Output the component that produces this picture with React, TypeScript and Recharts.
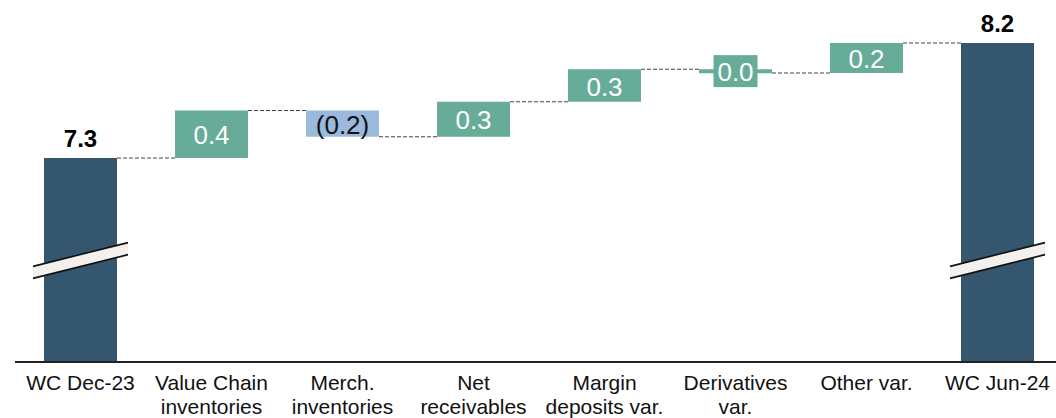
import React from "react";
import { BarChart, Bar, XAxis, YAxis, LabelList } from "recharts";

const categories = [
  "WC Dec-23",
  "Value Chain\ninventories",
  "Merch.\ninventories",
  "Net\nreceivables",
  "Margin\ndeposits var.",
  "Derivatives\nvar.",
  "Other var.",
  "WC Jun-24",
];
const startTotal = 7.3;
const deltas = [0.38, -0.21, 0.28, 0.26, -0.03, 0.24];
const endTotal = 8.22;
const valueLabels = ["7.3", "0.4", "(0.2)", "0.3", "0.3", "0.0", "0.2", "8.2"];

const W = 1064;
const H = 418;
const X_AXIS_H = 56;
const M = { top: 10, right: 1, bottom: 0, left: 15 };
const Y_MIN = 5.668;
const Y_MAX = 8.484;
const BREAK_AT = 6.48;
const BAR = 73;

const NAVY = "#34566e";
const GREEN = "#67ac98";
const BLUE = "#9ab9dd";

// build waterfall rows
const rows: any[] = [];
let run = startTotal;
rows.push({ name: categories[0], range: [0, startTotal], end: startTotal, kind: "total", label: valueLabels[0] });
deltas.forEach((d, i) => {
  const next = run + d;
  rows.push({
    name: categories[i + 1],
    range: [Math.min(run, next), Math.max(run, next)],
    end: next,
    kind: d < 0 ? "down" : "up",
    label: valueLabels[i + 1],
  });
  run = next;
});
rows.push({ name: categories[7], range: [0, endTotal], end: endTotal, kind: "total", label: valueLabels[7] });

const plotH = H - M.top - M.bottom - X_AXIS_H;
const plotW = W - M.left - M.right;
const band = plotW / categories.length;
const yPx = (v: number) => M.top + plotH * (1 - (v - Y_MIN) / (Y_MAX - Y_MIN));

function colorFor(r: any) {
  if (r.kind === "total") return NAVY;
  return r.label.startsWith("(") ? BLUE : GREEN;
}

function WaterfallShape(props: any) {
  const { x, y, width, height, index } = props;
  const r = rows[index];
  const endY = r.kind === "down" ? y + height : y;
  const h = Math.max(height, 4);
  const els: any[] = [];
  els.push(<rect key="r" x={x} y={r.kind === "down" || height >= 4 ? y : y - 2} width={width} height={h} fill={colorFor(r)} />);
  if (index < rows.length - 1) {
    const gap = band - width;
    els.push(
      <line key="c" x1={x + width} x2={x + width + gap} y1={endY} y2={endY} stroke="#444" strokeWidth={1} strokeDasharray="4 2" />
    );
  }
  if (r.kind === "total") {
    const cx = x + width / 2;
    const cy = yPx(BREAK_AT);
    const hw = width / 2 + 11;
    const s = 0.25 * hw;
    const t = 6;
    els.push(
      <g key="b">
        <polygon
          points={`${cx - hw},${cy - t + s} ${cx + hw},${cy - t - s} ${cx + hw},${cy + t - s} ${cx - hw},${cy + t + s}`}
          fill="#f3f0ed"
        />
        <line x1={cx - hw} y1={cy - t + s} x2={cx + hw} y2={cy - t - s} stroke="#111" strokeWidth={1.6} />
        <line x1={cx - hw} y1={cy + t + s} x2={cx + hw} y2={cy + t - s} stroke="#111" strokeWidth={1.6} />
      </g>
    );
  }
  return <g>{els}</g>;
}

function ValueLabel(props: any) {
  const { x, y, width, height, index } = props;
  const r = rows[index];
  const cx = x + width / 2;
  if (r.kind === "total") {
    return (
      <text x={cx} y={y - 20} textAnchor="middle" dominantBaseline="central" fontSize={24} fontWeight="bold" fill="#000">
        {r.label}
      </text>
    );
  }
  const cy = y + height / 2;
  const small = height < 20;
  return (
    <g>
      {small && <rect x={cx - 22} y={cy - 16} width={44} height={32} fill={colorFor(r)} />}
      <text x={cx} y={cy + 1} textAnchor="middle" dominantBaseline="central" fontSize={26} fill={r.kind === "down" && !small ? "#111" : "#fff"}>
        {r.label}
      </text>
    </g>
  );
}

function CategoryTick(props: any) {
  const { x, y, payload } = props;
  const lines = String(payload.value).split("\n");
  return (
    <text x={x} y={y} textAnchor="middle" fontSize={21} fill="#111">
      {lines.map((l, i) => (
        <tspan key={i} x={x} dy={i === 0 ? 20 : 24}>
          {l}
        </tspan>
      ))}
    </text>
  );
}

export default function App() {
  return (
    <div style={{ position: "absolute", left: 0, top: 0, width: 1056, height: 418, overflow: "hidden", background: "#fff", fontFamily: "'Liberation Sans', Arial, sans-serif" }}>
      <BarChart width={W} height={H} data={rows} margin={M} barSize={BAR}>
        <XAxis
          dataKey="name"
          interval={0}
          tickLine={false}
          axisLine={{ stroke: "#222", strokeWidth: 2 }}
          tick={<CategoryTick />}
          height={X_AXIS_H}
        />
        <YAxis hide domain={[Y_MIN, Y_MAX]} allowDataOverflow type="number" />
        <Bar dataKey="range" isAnimationActive={false} shape={<WaterfallShape />}>
          <LabelList dataKey="label" content={<ValueLabel />} />
        </Bar>
      </BarChart>
    </div>
  );
}
